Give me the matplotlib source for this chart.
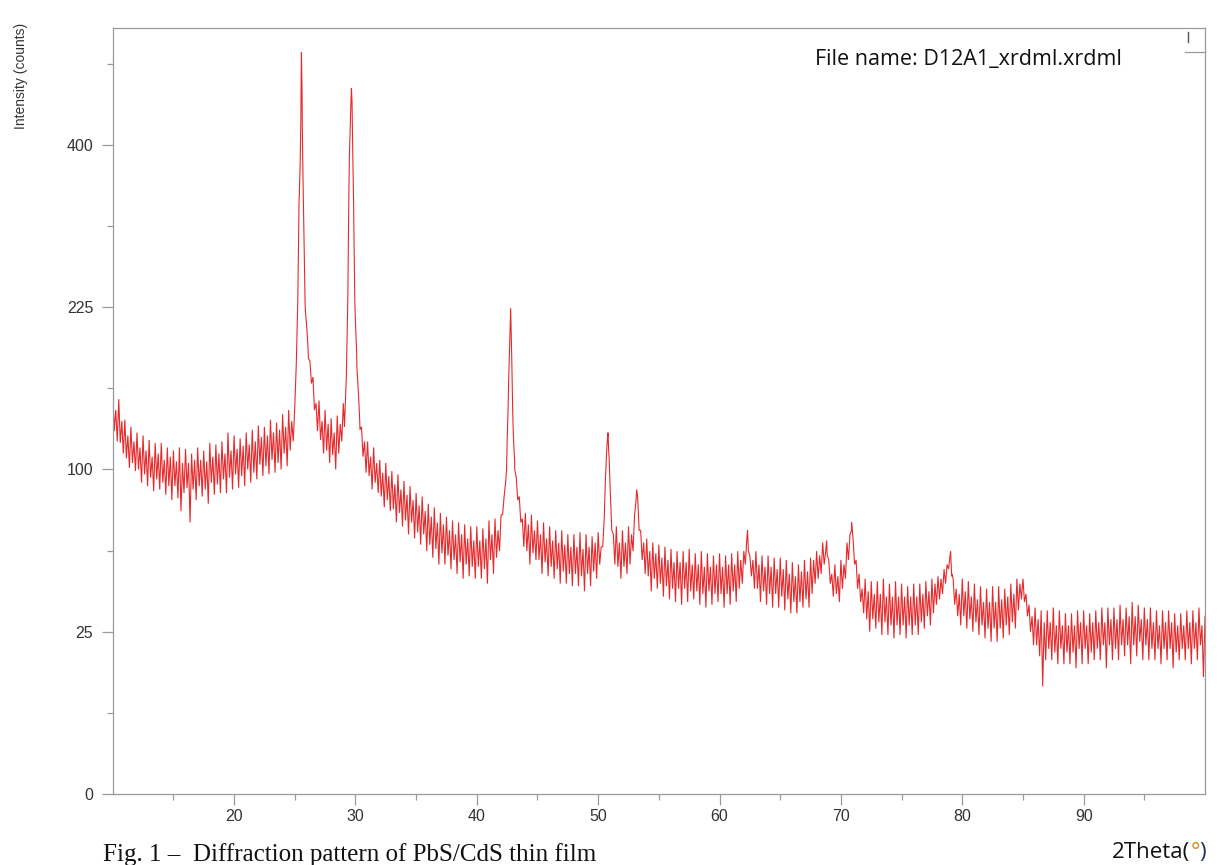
import numpy as np
import matplotlib
matplotlib.use("Agg")
import matplotlib.pyplot as plt
from matplotlib.lines import Line2D

# ---------------- data ----------------
grid_start, grid_stop, grid_step = 10.0, 100.0, 0.25
# upper side of the noise band, at 10.00, 10.25, ... 100.00
counts_upper = [
    154, 140, 148, 132,   # 10
    133, 122, 128, 118,   # 11
    124, 114, 122, 112,   # 12
    119, 108, 117, 110,   # 13
    117, 106, 114, 108,   # 14
    112, 105, 114, 104,   # 15
    113, 104, 110, 106,   # 16
    114, 106, 112, 105,   # 17
    117, 108, 116, 110,   # 18
    118, 110, 124, 112,   # 19
    122, 113, 120, 115,   # 20
    124, 116, 126, 118,   # 21
    129, 121, 128, 122,   # 22
    133, 124, 131, 126,   # 23
    137, 128, 140, 132,   # 24
    142, 230, 430, 300,   # 25
    205, 178, 165, 145,   # 26
    147, 132, 140, 130,   # 27
    134, 124, 136, 130,   # 28
    145, 165, 385, 420,   # 29
    212, 152, 128, 118,   # 30
    118, 108, 114, 104,   # 31
    106, 98, 104, 96,     # 32
    99, 91, 97, 88,       # 33
    93, 85, 90, 82,       # 34
    86, 79, 84, 76,       # 35
    80, 73, 78, 70,       # 36
    75, 69, 73, 66,       # 37
    71, 64, 70, 64,       # 38
    69, 62, 68, 61,       # 39
    68, 61, 67, 62,       # 40
    71, 64, 72, 66,       # 41
    74, 84, 118, 210,     # 42
    126, 95, 84, 72,      # 43
    75, 69, 74, 66,       # 44
    71, 64, 70, 62,       # 45
    68, 61, 66, 60,       # 46
    66, 59, 64, 58,       # 47
    64, 58, 65, 57,       # 48
    64, 58, 63, 60,       # 49
    65, 58, 72, 118,      # 50
    86, 64, 68, 60,       # 51
    66, 60, 68, 64,       # 52
    74, 84, 66, 60,       # 53
    62, 56, 60, 55,       # 54
    59, 53, 58, 52,       # 55
    57, 51, 56, 51,       # 56
    56, 51, 57, 50,       # 57
    55, 50, 56, 49,       # 58
    55, 49, 54, 50,       # 59
    55, 49, 54, 50,       # 60
    55, 50, 56, 52,       # 61
    56, 62, 54, 52,       # 62
    56, 50, 54, 49,       # 63
    54, 49, 53, 48,       # 64
    53, 48, 52, 46,       # 65
    51, 45, 50, 47,       # 66
    52, 47, 53, 52,       # 67
    56, 54, 60, 56,       # 68
    52, 46, 50, 45,       # 69
    52, 50, 60, 64,       # 70
    62, 52, 46, 40,       # 71
    44, 39, 43, 38,       # 72
    43, 38, 44, 37,       # 73
    42, 37, 43, 37,       # 74
    42, 37, 41, 37,       # 75
    42, 37, 42, 38,       # 76
    43, 39, 44, 42,       # 77
    45, 44, 48, 50,       # 78
    54, 44, 40, 38,       # 79
    44, 39, 43, 37,       # 80
    42, 36, 41, 35,       # 81
    40, 35, 41, 35,       # 82
    41, 36, 40, 37,       # 83
    42, 38, 44, 42,       # 84
    44, 38, 34, 30,       # 85
    33, 29, 32, 28,       # 86
    32, 28, 33, 27,       # 87
    32, 27, 31, 27,       # 88
    31, 27, 32, 28,       # 89
    32, 27, 31, 28,       # 90
    32, 28, 33, 28,       # 91
    33, 29, 33, 29,       # 92
    34, 29, 33, 30,       # 93
    35, 30, 34, 29,       # 94
    33, 29, 33, 28,       # 95
    32, 27, 32, 28,       # 96
    32, 28, 31, 27,       # 97
    31, 27, 32, 28,       # 98
    32, 28, 33, 27,       # 99
    30,                   # 100
]

# lower side of the noise band, at 10.125, 10.375, ... 99.875
counts_lower = [
    125, 118, 117, 110,   # 10
    107, 101, 104, 99,    # 11
    100, 92, 97, 90,      # 12
    95, 87, 94, 88,       # 13
    92, 85, 90, 82,       # 14
    90, 83, 76, 86,       # 15
    89, 70, 88, 82,       # 16
    90, 84, 88, 80,       # 17
    92, 85, 91, 86,       # 18
    94, 86, 95, 88,       # 19
    97, 89, 96, 90,       # 20
    100, 92, 98, 94,      # 21
    103, 96, 102, 97,     # 22
    106, 98, 104, 100,    # 23
    110, 102, 112, 118,   # 24
    175, 340, 420, 222,   # 25
    180, 160, 140, 125,   # 26
    119, 110, 112, 104,   # 27
    109, 100, 110, 118,   # 28
    135, 235, 452, 300,   # 29
    172, 126, 108, 98,    # 30
    96, 88, 92, 86,       # 31
    84, 78, 82, 76,       # 32
    77, 70, 75, 68,       # 33
    71, 64, 70, 62,       # 34
    65, 59, 64, 56,       # 35
    59, 53, 57, 50,       # 36
    55, 50, 54, 48,       # 37
    52, 46, 51, 44,       # 38
    50, 45, 49, 44,       # 39
    49, 44, 48, 42,       # 40
    52, 46, 53, 56,       # 41
    74, 92, 162, 182,     # 42
    100, 82, 70, 58,      # 43
    56, 50, 55, 52,       # 44
    52, 46, 51, 45,       # 45
    49, 44, 48, 42,       # 46
    47, 42, 46, 41,       # 47
    46, 41, 45, 39,       # 48
    46, 41, 47, 44,       # 49
    50, 58, 98, 110,      # 50
    66, 50, 49, 44,       # 51
    49, 46, 50, 56,       # 52
    82, 66, 52, 46,       # 53
    45, 39, 44, 40,       # 54
    42, 37, 41, 36,       # 55
    40, 35, 40, 34,       # 56
    40, 35, 39, 36,       # 57
    39, 34, 38, 33,       # 58
    39, 34, 38, 35,       # 59
    38, 33, 38, 34,       # 60
    39, 35, 40, 42,       # 61
    50, 56, 45, 40,       # 62
    40, 35, 39, 34,       # 63
    38, 33, 38, 33,       # 64
    37, 32, 36, 31,       # 65
    35, 31, 35, 33,       # 66
    36, 33, 38, 42,       # 67
    44, 46, 50, 54,       # 68
    42, 37, 38, 35,       # 69
    40, 44, 52, 66,       # 70
    50, 40, 35, 31,       # 71
    29, 25, 29, 26,       # 72
    28, 24, 28, 24,       # 73
    27, 23, 27, 24,       # 74
    27, 23, 27, 24,       # 75
    27, 24, 28, 26,       # 76
    30, 27, 31, 34,       # 77
    36, 38, 42, 48,       # 78
    45, 34, 30, 27,       # 79
    30, 26, 29, 25,       # 80
    28, 24, 27, 23,       # 81
    26, 22, 26, 22,       # 82
    26, 23, 27, 24,       # 83
    28, 26, 32, 36,       # 84
    35, 30, 25, 21,       # 85
    21, 18, 11, 17,       # 86
    20, 17, 19, 16,       # 87
    20, 16, 19, 16,       # 88
    19, 15, 20, 16,       # 89
    20, 16, 19, 17,       # 90
    20, 17, 21, 15,       # 91
    21, 17, 20, 17,       # 92
    21, 18, 21, 16,       # 93
    21, 18, 22, 17,       # 94
    21, 17, 20, 17,       # 95
    20, 16, 20, 17,       # 96
    20, 15, 19, 17,       # 97
    20, 17, 20, 16,       # 98
    20, 17, 21, 13,       # 99
]

# extra samples on the diffraction peaks
peak_theta = [25.1, 25.35, 25.45, 25.55, 25.6, 25.68, 25.85, 26.1,
              29.1, 29.35, 29.45, 29.6, 29.67, 29.72, 29.85, 29.95, 30.1, 30.2, 30.35,
              42.35, 42.45, 42.57, 42.7, 42.79, 42.88, 42.96, 43.05, 43.12,
              50.6, 50.7, 50.81, 50.9, 51.1,
              53.1, 53.17, 53.35,
              62.31, 68.82, 70.88, 78.95, 79.04, 79.15]
peak_counts = [170, 330, 380, 522, 470, 360, 230, 188,
               128, 220, 330, 440, 473, 455, 330, 230, 185, 160, 133,
               90, 100, 138, 190, 224, 180, 138, 115, 105,
               95, 112, 124, 108, 70,
               80, 88, 70,
               66, 61, 70, 52, 56, 46]

x_ticks = [20, 30, 40, 50, 60, 70, 80, 90]
x_minor = [15, 25, 35, 45, 55, 65, 75, 85, 95]
y_ticks = [0, 25, 100, 225, 400]
y_minor = [6.25, 56.25, 156.25, 306.25, 506.25]

file_label = "File name: D12A1_xrdml.xrdml"
y_label = "Intensity (counts)"
caption = "Fig. 1 \u2013  Diffraction pattern of PbS/CdS thin film"

# ---------------- assemble ----------------
grid_theta = np.arange(grid_start, grid_stop + grid_step / 2, grid_step)
half_theta = grid_theta[:-1] + grid_step / 2
theta = np.concatenate([grid_theta, half_theta, np.array(peak_theta)])
counts = np.concatenate([np.array(counts_upper, float), np.array(counts_lower, float),
                         np.array(peak_counts, float)])
order = np.argsort(theta, kind="stable")
theta, counts = theta[order], counts[order]

W, H = 1231, 865
fig = plt.figure(figsize=(W / 100, H / 100), dpi=100)
fig.patch.set_facecolor("white")
ax = fig.add_axes([112.7 / W, 1 - 794 / H, (1205 - 112.7) / W, (794 - 28) / H])

ax.plot(theta, counts, color="#e62a2c", lw=0.8, solid_joinstyle="miter")

ax.set_yscale("function", functions=(lambda v: np.sqrt(np.clip(v, 0, None)),
                                     lambda v: np.square(v)))
ax.set_xlim(10, 100)
ax.set_ylim(0, 557)

ax.set_xticks(x_ticks)
ax.set_xticks(x_minor, minor=True)
ax.set_yticks(y_ticks)
ax.set_yticks(y_minor, minor=True)
ax.set_xticklabels([str(t) for t in x_ticks])
ax.set_yticklabels([str(t) for t in y_ticks])

spine_col = "#9a9a9a"
for s in ax.spines.values():
    s.set_color(spine_col)
    s.set_linewidth(0.9)
ax.tick_params(axis="both", which="major", length=8, width=0.9, color=spine_col,
               labelsize=11.5, labelcolor="#333333")
ax.tick_params(axis="both", which="minor", length=4, width=0.9, color=spine_col)
ax.tick_params(axis="y", which="major", pad=6)
ax.tick_params(axis="x", which="major", pad=3)
for lab in ax.get_xticklabels() + ax.get_yticklabels():
    lab.set_family(["Liberation Sans", "DejaVu Sans"])

fig.text(21 / W, 1 - 23 / H, y_label, rotation=90, ha="center", va="top",
         fontsize=10, color="#333333", family=["Liberation Sans", "DejaVu Sans"])

fig.text(815 / W, 1 - 65 / H, file_label, ha="left", va="baseline",
         fontsize=15.5, color="#111111", family=["Open Sans", "DejaVu Sans"])

# small artifacts of the pasted text box (top-right corner)
fig.add_artist(Line2D([1185 / W, 1205 / W], [1 - 52 / H, 1 - 52 / H],
                      transform=fig.transFigure, color=spine_col, lw=0.9))
fig.add_artist(Line2D([1188 / W, 1188 / W], [1 - 32 / H, 1 - 42 / H],
                      transform=fig.transFigure, color="#555555", lw=1.0))

# axis title 2Theta(°) with coloured degree sign
fig.canvas.draw()
r = fig.canvas.get_renderer()
base_y = 1 - 858 / H
t1 = fig.text(1112 / W, base_y, "2Theta(", ha="left", va="baseline",
              fontsize=16, color="#111111", family=["Open Sans", "DejaVu Sans"])
bb = t1.get_window_extent(r)
t2 = fig.text(bb.x1 / W, base_y, "\u00b0", ha="left", va="baseline",
              fontsize=16, color="#e08a1e", family=["Open Sans", "DejaVu Sans"])
bb2 = t2.get_window_extent(r)
fig.text(bb2.x1 / W, base_y, ")", ha="left", va="baseline",
         fontsize=16, color="#1f2f5a", family=["Open Sans", "DejaVu Sans"])

fig.text(103 / W, 1 - 843 / H, caption, ha="left", va="top",
         fontsize=18, color="#111111", family=["Liberation Serif", "DejaVu Serif"])

fig.savefig("out.png", dpi=100)
